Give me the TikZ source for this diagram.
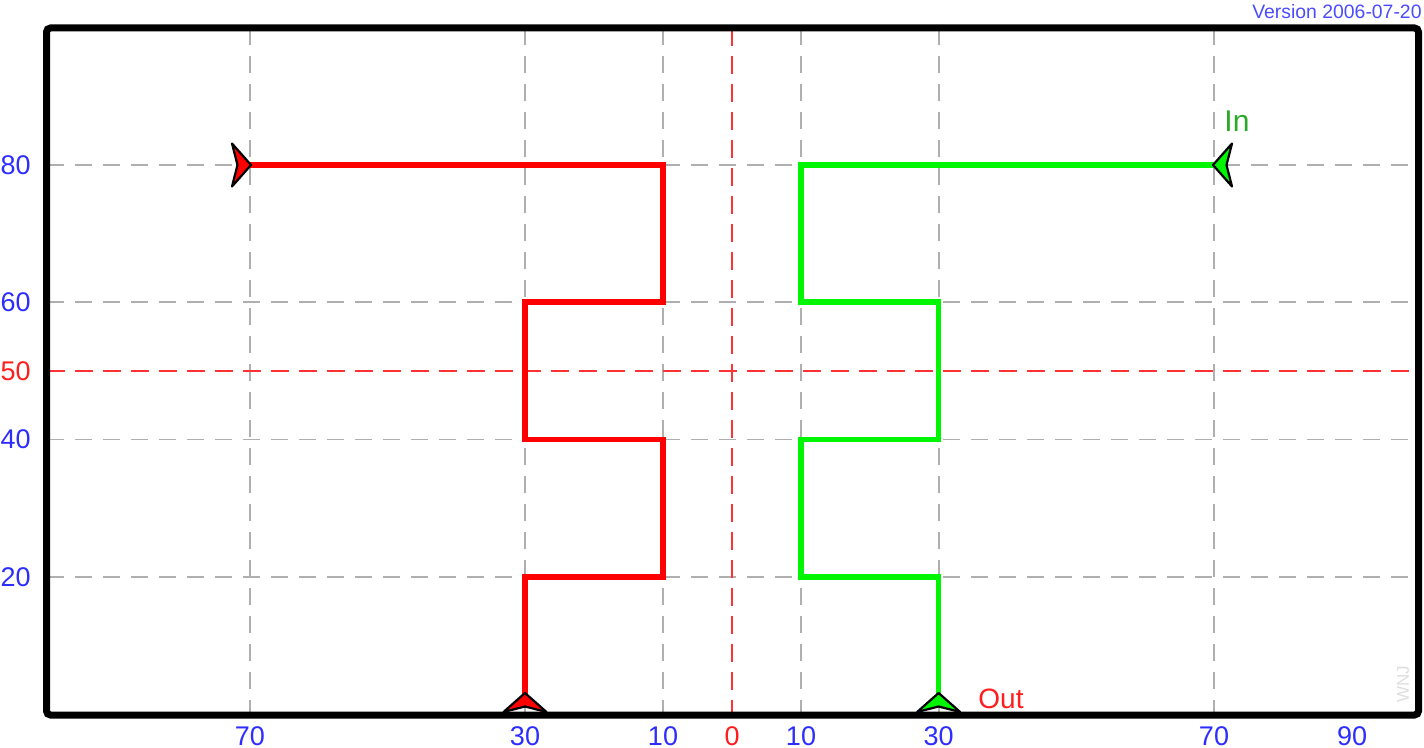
\documentclass[tikz,border=0pt]{standalone}
\usepackage{fontspec}
\setmainfont{Liberation Sans}
\definecolor{lblblue}{RGB}{45,45,255}
\definecolor{lblred}{RGB}{255,30,30}
\definecolor{lblgreen}{RGB}{40,170,40}
\definecolor{gridgray}{RGB}{175,175,175}
\definecolor{pathred}{RGB}{255,0,0}
\definecolor{pathgreen}{RGB}{0,245,0}
\definecolor{wmgray}{RGB}{222,222,222}
\tikzset{
  gridline/.style={draw=gridgray, line width=0.9pt, dash pattern=on 8.5pt off 5.5pt},
  axisline/.style={draw=pathred!80, line width=1pt, dash pattern=on 9pt off 5pt},
  frameline/.style={draw=black, line width=3.5pt, rounded corners=2pt},
  route/.style={line width=2.8pt},
  numlbl/.style={text=lblblue, font=\fontsize{13.5}{16}\selectfont, inner sep=0pt},
  pics/marker/.style={code={
    \filldraw[fill=#1, draw=black, line width=1.1pt, line join=round]
      (1,0) -- (-18,-21.5) -- (-12.5,0) -- (-18,21.5) -- cycle;
  }}
}
\begin{document}
\begin{tikzpicture}[x=0.5pt,y=-0.5pt]
\useasboundingbox (0,0) rectangle (1424,748);
% grid
\foreach \gx in {250,525,663,801,938.6,1214}
  \draw[gridline] (\gx,28) -- (\gx,715);
\foreach \gy in {165,302,439.6,577}
  \draw[gridline] (46.5,\gy) -- (1418.5,\gy);
\draw[axisline] (732,28) -- (732,715);
\draw[axisline] (46.5,371) -- (1418.5,371);
% frame
\draw[frameline] (46.5,28) rectangle (1418.5,715);
% named coordinates
\coordinate (rs) at (250,165);
\coordinate (re) at (525,694);
\coordinate (gs) at (1214,165);
\coordinate (ge) at (938.6,694);
% routes
\draw[route, pathred] (rs) -- (663,165) -- (663,302) -- (525,302) -- (525,439.6)
  -- (663,439.6) -- (663,577) -- (525,577) -- (re);
\draw[route, pathgreen] (gs) -- (801,165) -- (801,302) -- (938.6,302) -- (938.6,439.6)
  -- (801,439.6) -- (801,577) -- (938.6,577) -- (ge);
% markers
\pic at (rs) {marker=pathred};
\pic[rotate=90] at (re) {marker=pathred};
\pic[rotate=180] at (gs) {marker=pathgreen};
\pic[rotate=90] at (ge) {marker=pathgreen};
% labels bottom
\node[numlbl, anchor=base] (b70l) at (250,745) {70};
\node[numlbl, anchor=base] (b30l) at (525,745) {30};
\node[numlbl, anchor=base] (b10l) at (663,745) {10};
\node[numlbl, anchor=base, text=lblred] (b0) at (732,745) {0};
\node[numlbl, anchor=base] (b10r) at (801,745) {10};
\node[numlbl, anchor=base] (b30r) at (938.6,745) {30};
\node[numlbl, anchor=base] (b70r) at (1214,745) {70};
\node[numlbl, anchor=base] (b90r) at (1352,745) {90};
% labels left
\node[numlbl, anchor=base east] (l80) at (31,174.5) {80};
\node[numlbl, anchor=base east] (l60) at (31,311.5) {60};
\node[numlbl, anchor=base east, text=lblred] (l50) at (31,380.5) {50};
\node[numlbl, anchor=base east] (l40) at (31,449) {40};
\node[numlbl, anchor=base east] (l20) at (31,586.5) {20};
% other texts
\node[anchor=base east, inner sep=0pt, text=lblblue!85, font=\fontsize{9.7}{11}\selectfont] (ver) at (1422,19) {Version 2006-07-20};
\node[anchor=base west, inner sep=0pt, text=lblgreen, font=\fontsize{15}{18}\selectfont] (inl) at (1224,132) {In};
\node[anchor=base west, inner sep=0pt, text=lblred, font=\fontsize{14}{17}\selectfont] (outl) at (978,708) {Out};
\node[rotate=90, inner sep=0pt, text=wmgray, font=\fontsize{8.5}{10}\selectfont] (wm) at (1403,684) {WNJ};
\end{tikzpicture}
\end{document}
